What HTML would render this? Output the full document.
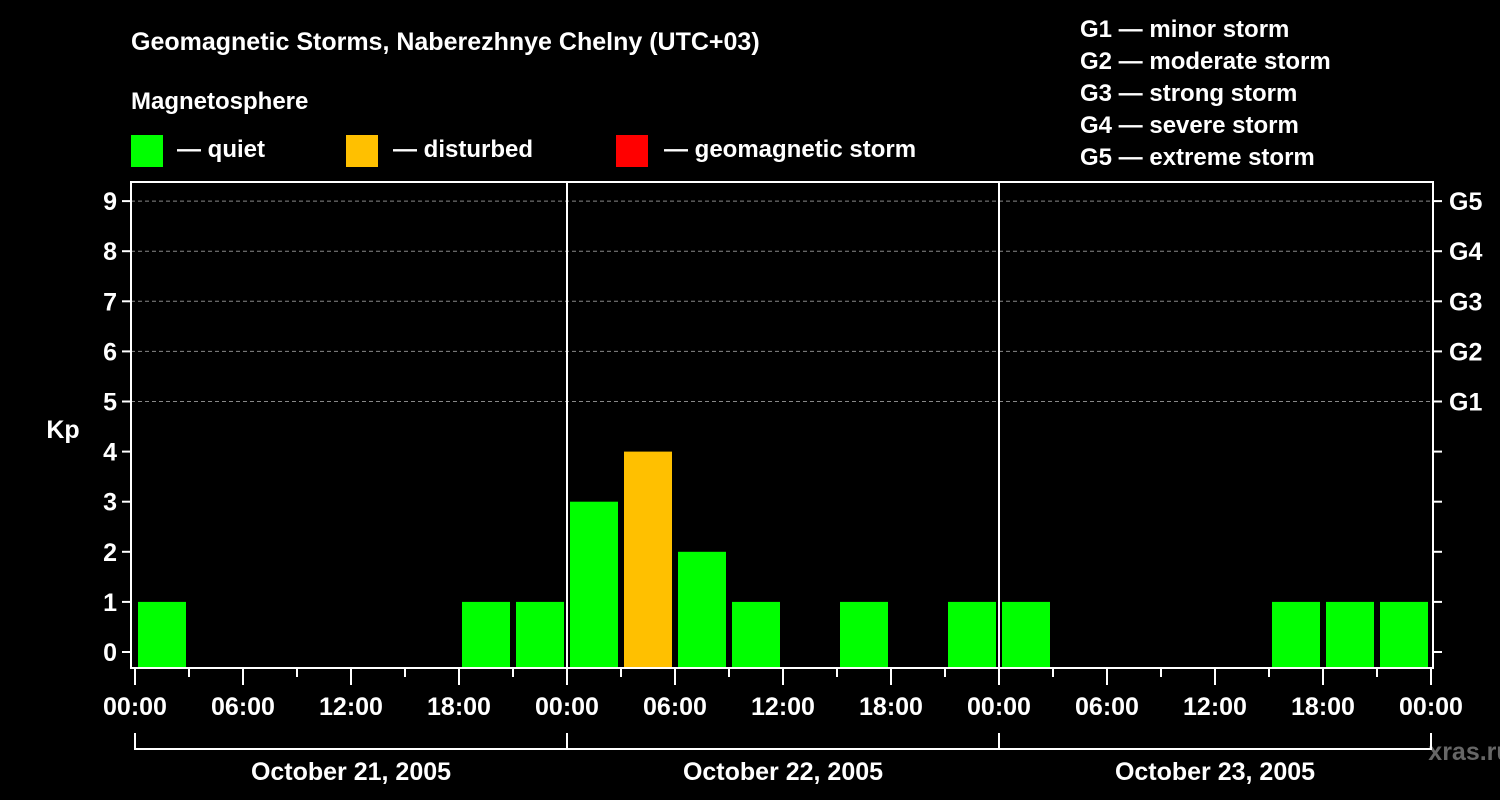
<!DOCTYPE html>
<html><head><meta charset="utf-8"><style>
body{margin:0;background:#000;width:1500px;height:800px;overflow:hidden}
svg{display:block}
text{font-family:"Liberation Sans",Arial,sans-serif;font-weight:bold;fill:#fff}
</style></head><body>
<svg id="chart" width="1500" height="800" xmlns="http://www.w3.org/2000/svg">
<text x="131" y="50" font-size="25">Geomagnetic Storms, Naberezhnye Chelny (UTC+03)</text>
<text x="131" y="109" font-size="24">Magnetosphere</text>
<g><rect x="131" y="135" width="32" height="32" fill="#00ff00"/><text x="177" y="157" font-size="24">— quiet</text></g>
<g><rect x="346" y="135" width="32" height="32" fill="#ffc000"/><text x="393" y="157" font-size="24">— disturbed</text></g>
<g><rect x="616" y="135" width="32" height="32" fill="#ff0000"/><text x="664" y="157" font-size="24">— geomagnetic storm</text></g>
<g font-size="24">
<text x="1080" y="37">G1 — minor storm</text>
<text x="1080" y="69">G2 — moderate storm</text>
<text x="1080" y="101">G3 — strong storm</text>
<text x="1080" y="133">G4 — severe storm</text>
<text x="1080" y="165">G5 — extreme storm</text>
</g>
<text x="63" y="438" font-size="25" text-anchor="middle">Kp</text>
<text x="1470" y="760" font-size="25" fill="#666" style="fill:#666" text-anchor="middle">xras.ru</text>
<g id="plot"></g>
</svg>
<script>
const days = ["October 21, 2005","October 22, 2005","October 23, 2005"];
const kpValues = [1,0,0,0,0,0,1,1, 3,4,2,1,0,1,0,1, 1,0,0,0,0,1,1,1];
const yTicks = [0,1,2,3,4,5,6,7,8,9];
const gLabels = ["G1","G2","G3","G4","G5"];
const xLabels = ["00:00","06:00","12:00","18:00"];

const NS="http://www.w3.org/2000/svg";
const g=document.getElementById('plot');
const L=131,R=1433,T=182,B=668,X0=135,DAY=432;
const y=k=>652-50.1*k;
const x=h=>X0+h*DAY/24;
function mk(tag,a,p){const e=document.createElementNS(NS,tag);for(const k in a)e.setAttribute(k,a[k]);(p||g).appendChild(e);return e;}
// grid
for(let k=5;k<=9;k++){const l=mk('line',{x1:L,x2:R,y1:y(k),y2:y(k),stroke:'#888','stroke-dasharray':'4,3','stroke-width':1});

}
// bars
kpValues.forEach((v,i)=>{if(v<=0)return;
const c=v>=5?'#ff0000':(v>=4?'#ffc000':'#00ff00');
const r=mk('rect',{x:x(i*3)+3,y:y(v),width:48,height:B-y(v),fill:c});

});
// day separators
for(let d=1;d<days.length;d++){const l=mk('line',{x1:x(d*24),x2:x(d*24),y1:T,y2:B,stroke:'#fff','stroke-width':2});

}
// frame
const f=mk('rect',{x:L,y:T,width:R-L,height:B-T,fill:'none',stroke:'#fff','stroke-width':2});


// y ticks
yTicks.forEach(k=>{mk('line',{x1:122,x2:L,y1:y(k),y2:y(k),stroke:'#fff','stroke-width':2});
mk('line',{x1:R,x2:1442,y1:y(k),y2:y(k),stroke:'#fff','stroke-width':2});
const t=mk('text',{x:117,y:y(k)+9,'font-size':25,'text-anchor':'end'});t.textContent=k;

});
gLabels.forEach((s,i)=>{const t=mk('text',{x:1449,y:y(5+i)+9,'font-size':25});t.textContent=s;

});
// x ticks
for(let h=0;h<=days.length*24;h+=3){const big=h%6===0;
mk('line',{x1:x(h),x2:x(h),y1:B,y2:B+(big?17:9),stroke:'#fff','stroke-width':2});
if(big){const t=mk('text',{x:x(h),y:715,'font-size':25,'text-anchor':'middle'});t.textContent=xLabels[(h/6)%4];

}}
// day brackets
mk('line',{x1:x(0),x2:x(days.length*24),y1:749,y2:749,stroke:'#fff','stroke-width':2});
for(let d=0;d<=days.length;d++)mk('line',{x1:x(d*24),x2:x(d*24),y1:733,y2:750,stroke:'#fff','stroke-width':2});
days.forEach((s,d)=>{const t=mk('text',{x:x(d*24+12),y:780,'font-size':25,'text-anchor':'middle'});t.textContent=s;

});
</script>
</body></html>
